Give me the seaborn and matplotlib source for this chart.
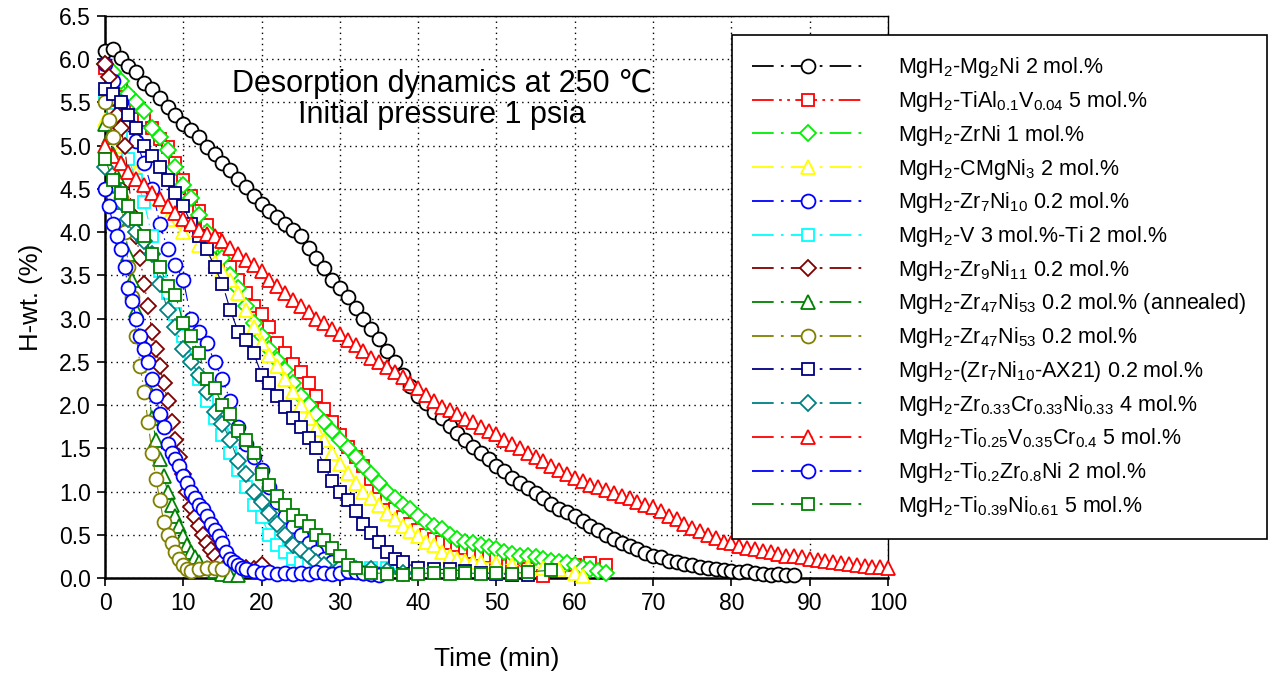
import numpy as np
import matplotlib
matplotlib.use("Agg")
import matplotlib.pyplot as plt
from matplotlib.lines import Line2D
import seaborn as sns

# ---------------- data ----------------
t_black = list(range(0, 89))
h_black = [6.10, 6.12, 6.02, 5.92, 5.85, 5.72, 5.65, 5.55, 5.45, 5.35,
           5.25, 5.18, 5.10, 4.98, 4.90, 4.80, 4.72, 4.62, 4.52, 4.42,
           4.32, 4.25, 4.18, 4.10, 4.03, 3.95, 3.82, 3.70, 3.58, 3.45,
           3.35, 3.25, 3.12, 3.00, 2.88, 2.76, 2.62, 2.50, 2.35, 2.22,
           2.10, 2.02, 1.92, 1.85, 1.76, 1.68, 1.60, 1.52, 1.45, 1.38,
           1.30, 1.24, 1.16, 1.10, 1.04, 0.98, 0.92, 0.86, 0.80, 0.76,
           0.72, 0.66, 0.60, 0.55, 0.50, 0.45, 0.41, 0.37, 0.33, 0.29,
           0.26, 0.24, 0.20, 0.18, 0.16, 0.15, 0.13, 0.12, 0.10, 0.09,
           0.08, 0.07, 0.08, 0.06, 0.05, 0.04, 0.05, 0.04, 0.03]

t_redsq = [0, 1, 2, 3, 4, 5, 6, 7, 8, 9, 10, 11, 12, 13, 14, 15, 16, 17, 18, 19,
           20, 21, 22, 23, 24, 25, 26, 27, 28, 29, 30, 31, 32, 33, 34, 35, 36, 37,
           38, 39, 40, 41, 42, 43, 44, 45, 46, 47, 48, 49, 50, 52, 54, 56, 58, 60,
           62, 64]
h_redsq = [5.90, 5.80, 5.70, 5.55, 5.45, 5.30, 5.20, 5.08, 4.98, 4.80,
           4.60, 4.42, 4.25, 4.08, 3.92, 3.75, 3.60, 3.45, 3.30, 3.15,
           3.05, 2.90, 2.72, 2.60, 2.48, 2.38, 2.25, 2.10, 1.95, 1.80,
           1.65, 1.52, 1.40, 1.30, 1.15, 1.05, 0.92, 0.80, 0.70, 0.62,
           0.55, 0.50, 0.45, 0.42, 0.40, 0.38, 0.35, 0.30, 0.28, 0.25,
           0.22, 0.18, 0.10, 0.02, 0.10, 0.15, 0.17, 0.15]

t_zrni = list(range(0, 65))
h_zrni = [5.95, 5.85, 5.75, 5.60, 5.50, 5.40, 5.20, 5.10, 4.95, 4.75,
          4.55, 4.40, 4.20, 4.00, 3.85, 3.70, 3.50, 3.35, 3.15, 2.95,
          2.80, 2.65, 2.52, 2.40, 2.25, 2.10, 2.00, 1.90, 1.80, 1.70,
          1.60, 1.50, 1.40, 1.30, 1.20, 1.10, 1.00, 0.92, 0.85, 0.80,
          0.72, 0.65, 0.60, 0.57, 0.50, 0.45, 0.42, 0.40, 0.38, 0.36,
          0.33, 0.30, 0.28, 0.26, 0.25, 0.24, 0.22, 0.20, 0.18, 0.17,
          0.15, 0.12, 0.10, 0.08, 0.06]

t_cmgni = [0, 2, 4, 6, 8, 10, 12, 14, 15, 16, 17, 18, 19, 20, 21, 22, 23, 24, 25,
           26, 27, 28, 29, 30, 31, 32, 33, 34, 35, 36, 37, 38, 39, 40, 41, 42, 43,
           44, 45, 46, 47, 48, 50, 52, 54, 56, 58, 60, 61]
h_cmgni = [5.30, 5.00, 4.70, 4.40, 4.15, 4.00, 3.85, 3.65, 3.55, 3.45,
           3.30, 3.10, 2.90, 2.72, 2.58, 2.45, 2.30, 2.15, 2.00, 1.85,
           1.72, 1.60, 1.45, 1.32, 1.22, 1.10, 1.00, 0.92, 0.84, 0.75,
           0.68, 0.60, 0.54, 0.48, 0.42, 0.38, 0.30, 0.25, 0.22, 0.20,
           0.19, 0.18, 0.17, 0.15, 0.13, 0.12, 0.10, 0.06, 0.02]

t_zr7 = [0, 1, 2, 3, 4, 5, 6, 7, 8, 9, 10, 11, 12, 13, 14, 15, 16, 17, 18, 19, 20,
         21, 22, 23, 24, 25, 26, 27, 28, 29, 30, 31, 32, 33, 34, 35]
h_zr7 = [5.95, 5.75, 5.50, 5.25, 5.05, 4.80, 4.50, 4.10, 3.80, 3.62,
         3.45, 3.00, 2.85, 2.72, 2.50, 2.30, 2.05, 1.75, 1.55, 1.40,
         1.25, 1.05, 0.88, 0.72, 0.60, 0.50, 0.40, 0.30, 0.22, 0.18,
         0.12, 0.10, 0.08, 0.06, 0.05, 0.05]

t_vti = [0, 1, 2, 3, 4, 5, 6, 7, 8, 9, 10, 11, 12, 13, 14, 15, 16, 17, 18, 19, 20,
         21, 22, 23, 24, 25, 26, 27, 28, 30, 32, 34, 36, 38]
h_vti = [5.60, 5.35, 5.10, 4.85, 4.60, 4.35, 3.95, 3.55, 3.30, 3.05,
         2.80, 2.55, 2.30, 2.05, 1.85, 1.65, 1.45, 1.25, 1.05, 0.85,
         0.70, 0.50, 0.38, 0.30, 0.22, 0.17, 0.15, 0.12, 0.10, 0.10,
         0.10, 0.12, 0.12, 0.10]

t_zr9 = [0, 0.5, 1, 1.5, 2, 2.5, 3, 3.5, 4, 4.5, 5, 5.5, 6, 6.5, 7, 7.5, 8, 8.5, 9,
         9.5, 10, 10.5, 11, 11.5, 12, 12.5, 13, 13.5, 14, 15, 16, 17, 18, 19, 20]
h_zr9 = [5.95, 5.80, 5.55, 5.35, 5.20, 5.00, 4.60, 4.20, 3.95, 3.70,
         3.40, 3.15, 2.85, 2.65, 2.45, 2.25, 2.05, 1.80, 1.60, 1.40,
         1.20, 1.00, 0.82, 0.70, 0.60, 0.50, 0.40, 0.32, 0.25, 0.20,
         0.18, 0.15, 0.12, 0.10, 0.15]

t_ann = [0, 0.5, 1, 1.5, 2, 2.5, 3, 3.5, 4, 4.5, 5, 5.5, 6, 6.5, 7, 7.5, 8, 8.5, 9,
         9.5, 10, 10.5, 11, 11.5, 12, 13, 14, 15, 16, 17]
h_ann = [5.25, 5.10, 4.90, 4.65, 4.35, 4.05, 3.75, 3.45, 3.10, 2.80,
         2.50, 2.20, 1.85, 1.60, 1.38, 1.18, 1.00, 0.85, 0.72, 0.60,
         0.48, 0.38, 0.30, 0.24, 0.18, 0.12, 0.08, 0.05, 0.04, 0.03]

t_zr47 = [0, 0.5, 1, 1.5, 2, 2.5, 3, 3.5, 4, 4.5, 5, 5.5, 6, 6.5, 7, 7.5, 8, 8.5, 9,
          9.5, 10, 10.5, 11, 12, 13, 14, 15]
h_zr47 = [5.50, 5.30, 5.10, 4.80, 4.40, 4.00, 3.60, 3.25, 2.80, 2.45,
          2.15, 1.80, 1.45, 1.15, 0.90, 0.65, 0.50, 0.40, 0.30, 0.22,
          0.15, 0.10, 0.08, 0.10, 0.12, 0.12, 0.10]

t_ax21 = [0, 1, 2, 3, 4, 5, 6, 7, 8, 9, 10, 11, 12, 13, 14, 15, 16, 17, 18, 19, 20,
          21, 22, 23, 24, 25, 26, 27, 28, 29, 30, 31, 32, 33, 34, 35, 36, 37, 38,
          40, 42, 44, 46, 48, 50, 52, 54]
h_ax21 = [5.65, 5.60, 5.50, 5.35, 5.20, 5.00, 4.88, 4.75, 4.60, 4.45,
          4.30, 4.10, 3.95, 3.80, 3.60, 3.40, 3.10, 2.85, 2.75, 2.60,
          2.35, 2.25, 2.10, 1.98, 1.85, 1.75, 1.62, 1.50, 1.30, 1.12,
          1.00, 0.90, 0.78, 0.62, 0.52, 0.42, 0.30, 0.22, 0.18, 0.12,
          0.10, 0.10, 0.08, 0.06, 0.05, 0.04, 0.04]

t_zrcrni = [0, 1, 2, 3, 4, 5, 6, 7, 8, 9, 10, 11, 12, 13, 14, 15, 16, 17, 18, 19,
            20, 21, 22, 23, 24, 25, 26, 27, 28, 30, 32, 34, 36, 38]
h_zrcrni = [4.75, 4.55, 4.35, 4.15, 4.00, 3.90, 3.75, 3.40, 3.10, 2.90,
            2.65, 2.50, 2.35, 2.15, 1.92, 1.78, 1.60, 1.35, 1.20, 1.00,
            0.88, 0.75, 0.62, 0.50, 0.38, 0.32, 0.25, 0.18, 0.15, 0.12,
            0.10, 0.10, 0.08, 0.06]

t_tivcr = list(range(0, 101))
h_tivcr = [5.00, 4.88, 4.80, 4.70, 4.62, 4.55, 4.45, 4.38, 4.30, 4.22,
           4.15, 4.10, 4.02, 3.98, 3.95, 3.90, 3.82, 3.75, 3.68, 3.62,
           3.55, 3.45, 3.38, 3.30, 3.22, 3.15, 3.08, 3.00, 2.95, 2.88,
           2.82, 2.75, 2.70, 2.62, 2.55, 2.50, 2.44, 2.38, 2.32, 2.26,
           2.20, 2.12, 2.05, 1.98, 1.94, 1.90, 1.84, 1.80, 1.75, 1.70,
           1.66, 1.60, 1.55, 1.50, 1.45, 1.40, 1.35, 1.30, 1.25, 1.20,
           1.16, 1.12, 1.08, 1.05, 1.02, 0.98, 0.95, 0.92, 0.88, 0.85,
           0.82, 0.77, 0.72, 0.68, 0.63, 0.58, 0.54, 0.50, 0.46, 0.42,
           0.40, 0.37, 0.35, 0.33, 0.31, 0.30, 0.28, 0.26, 0.25, 0.24,
           0.22, 0.21, 0.20, 0.18, 0.17, 0.16, 0.15, 0.14, 0.13, 0.13,
           0.12]

t_tizr = [0, 0.5, 1, 1.5, 2, 2.5, 3, 3.5, 4, 4.5, 5, 5.5, 6, 6.5, 7, 7.5, 8, 8.5,
          9, 9.5, 10, 10.5, 11, 11.5, 12, 12.5, 13, 13.5, 14, 14.5, 15, 15.5, 16,
          16.5, 17, 17.5, 18, 19, 20, 21, 22, 23, 24, 25, 26, 27, 28, 29, 30, 31,
          32, 33, 34, 35]
h_tizr = [4.50, 4.30, 4.10, 3.95, 3.80, 3.60, 3.35, 3.20, 3.00, 2.80,
          2.65, 2.50, 2.30, 2.10, 1.90, 1.75, 1.55, 1.45, 1.38, 1.30,
          1.18, 1.10, 1.00, 0.92, 0.85, 0.80, 0.72, 0.62, 0.55, 0.48,
          0.40, 0.30, 0.22, 0.18, 0.15, 0.12, 0.10, 0.08, 0.06, 0.07,
          0.05, 0.06, 0.05, 0.06, 0.05, 0.07, 0.06, 0.05, 0.06, 0.08,
          0.07, 0.06, 0.05, 0.04]

t_tini = [0, 1, 2, 3, 4, 5, 6, 7, 8, 9, 10, 11, 12, 13, 14, 15, 16, 17, 18, 19,
          20, 21, 22, 23, 24, 25, 26, 27, 28, 29, 30, 31, 32, 34, 36, 38, 40, 42,
          44, 46, 48, 50, 52, 54, 57]
h_tini = [4.85, 4.60, 4.45, 4.30, 4.15, 3.95, 3.75, 3.60, 3.38, 3.27,
          2.95, 2.80, 2.60, 2.30, 2.20, 2.00, 1.90, 1.70, 1.60, 1.45,
          1.20, 1.08, 0.95, 0.85, 0.73, 0.66, 0.60, 0.50, 0.44, 0.35,
          0.25, 0.15, 0.12, 0.06, 0.05, 0.04, 0.05, 0.06, 0.05, 0.06,
          0.05, 0.06, 0.05, 0.07, 0.09]

labels = [
    r"MgH$_2$-Mg$_2$Ni 2 mol.%",
    r"MgH$_2$-TiAl$_{0.1}$V$_{0.04}$ 5 mol.%",
    r"MgH$_2$-ZrNi 1 mol.%",
    r"MgH$_2$-CMgNi$_3$ 2 mol.%",
    r"MgH$_2$-Zr$_7$Ni$_{10}$ 0.2 mol.%",
    r"MgH$_2$-V 3 mol.%-Ti 2 mol.%",
    r"MgH$_2$-Zr$_9$Ni$_{11}$ 0.2 mol.%",
    r"MgH$_2$-Zr$_{47}$Ni$_{53}$ 0.2 mol.% (annealed)",
    r"MgH$_2$-Zr$_{47}$Ni$_{53}$ 0.2 mol.%",
    r"MgH$_2$-(Zr$_7$Ni$_{10}$-AX21) 0.2 mol.%",
    r"MgH$_2$-Zr$_{0.33}$Cr$_{0.33}$Ni$_{0.33}$ 4 mol.%",
    r"MgH$_2$-Ti$_{0.25}$V$_{0.35}$Cr$_{0.4}$ 5 mol.%",
    r"MgH$_2$-Ti$_{0.2}$Zr$_{0.8}$Ni 2 mol.%",
    r"MgH$_2$-Ti$_{0.39}$Ni$_{0.61}$ 5 mol.%",
]
times = [t_black, t_redsq, t_zrni, t_cmgni, t_zr7, t_vti, t_zr9, t_ann, t_zr47,
         t_ax21, t_zrcrni, t_tivcr, t_tizr, t_tini]
values = [h_black, h_redsq, h_zrni, h_cmgni, h_zr7, h_vti, h_zr9, h_ann, h_zr47,
          h_ax21, h_zrcrni, h_tivcr, h_tizr, h_tini]

# ---------------- styles ----------------
colors = ["#000000", "#FF0000", "#00EE00", "#FFFF00", "#0000FF", "#00FFFF",
          "#800000", "#008000", "#808000", "#000080", "#008080", "#FF0000",
          "#0000FF", "#008000"]
markers = ["o", "s", "D", "^", "o", "s", "D", "^", "o", "s", "D", "^", "o", "s"]
msizes = [10, 9, 8, 10, 10, 9, 8, 10, 10, 9, 8, 10, 10, 9]
dd = (0, (12, 4, 1.5, 4))
ddd = (0, (12, 3, 1.5, 3, 1.5, 3))
styles = [dd, ddd] + [dd] * 12

sns.set_theme(style="ticks")
plt.rcParams["font.family"] = ["Liberation Sans", "DejaVu Sans"]
plt.rcParams["mathtext.fontset"] = "custom"
plt.rcParams["mathtext.rm"] = "Liberation Sans"
plt.rcParams["mathtext.it"] = "Liberation Sans:italic"
plt.rcParams["mathtext.bf"] = "Liberation Sans:bold"
for key in ["text.color", "axes.labelcolor", "xtick.color", "ytick.color",
            "axes.edgecolor"]:
    plt.rcParams[key] = "black"

fig = plt.figure(figsize=(12.7, 6.77), dpi=100)
ax = fig.add_axes([105 / 1270, 1 - 578 / 677, (888 - 105) / 1270, (578 - 16) / 677])

handles = []
for t, h, c, m, ms, ls, lab in zip(times, values, colors, markers, msizes, styles, labels):
    sns.lineplot(x=t, y=h, ax=ax, color=c, marker=m, markersize=ms,
                 markerfacecolor="white", markeredgecolor=c, markeredgewidth=1.3,
                 linestyle=ls, linewidth=0.8, estimator=None, sort=False,
                 legend=False, clip_on=False)
    handles.append(Line2D([], [], color=c, marker=m, markersize=ms,
                          markerfacecolor="white", markeredgecolor=c,
                          markeredgewidth=1.3, linestyle=ls, linewidth=1.3))

ax.set_xlim(0, 100)
ax.set_ylim(0, 6.5)
ax.set_xticks(np.arange(0, 101, 10))
ax.set_yticks(np.arange(0, 6.51, 0.5))
ax.set_yticklabels([f"{v:.1f}" for v in np.arange(0, 6.51, 0.5)])
ax.grid(True, color="black", linestyle=(0, (1, 3)), linewidth=1.0)
ax.tick_params(axis="both", direction="out", length=6, width=1.2,
               labelsize=16.5, colors="black", pad=4)
for side in ["left", "bottom"]:
    ax.spines[side].set_linewidth(1.8)
for side in ["top", "right"]:
    ax.spines[side].set_linewidth(1.0)
for s in ax.spines.values():
    s.set_color("black")
    s.set_zorder(0.5)

ax.set_xlabel("Time (min)", fontsize=19, labelpad=23)
ax.set_ylabel("H-wt. (%)", fontsize=18.5, labelpad=12)

ax.text(0.43, 0.852, "Desorption dynamics at 250 \u2103\nInitial pressure 1 psia",
        transform=ax.transAxes, ha="center", va="center", fontsize=22,
        linespacing=1.05, family=["Liberation Sans", "DejaVu Sans"])

leg = fig.legend(handles, labels, loc="upper left",
                 bbox_to_anchor=(732 / 1270, 1 - 35 / 677),
                 frameon=True, fancybox=False, framealpha=1, edgecolor="black",
                 fontsize=15.5, handlelength=5.15, handletextpad=1.6,
                 labelspacing=0.405, borderpad=0.95, borderaxespad=0)
leg.get_frame().set_linewidth(1.2)

fig.savefig("out.png", dpi=100)
